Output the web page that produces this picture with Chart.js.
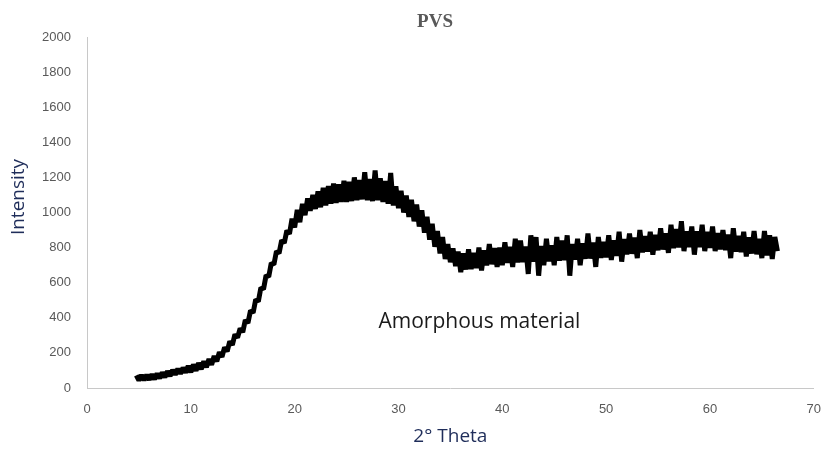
<!DOCTYPE html>
<html>
<head>
<meta charset="utf-8">
<script src="https://cdn.jsdelivr.net/npm/chart.js@4"></script>
<style>
  html, body { margin: 0; padding: 0; background: #fff; }
  #wrap { width: 835px; height: 453px; }
</style>
</head>
<body>
<div id="wrap"><canvas id="xrdChart"></canvas></div>
<script>
// sampling grid of the scan (degrees 2 theta)
const thetaStart = 4.75;
const thetaStep = 0.25;

// intensity, 0.25 deg apart
const intensity = [
    72, 44, 73, 45, 75, 47, 78, 50, 82, 55, 88, 61, 95, 69, 103, 76, 109, 82, 115, 88,
    126, 90, 134, 98, 142, 107, 152, 118, 165, 133, 182, 152, 204, 177, 232, 208, 266, 245, 305, 287,
    340, 318, 387, 370, 442, 428, 504, 493, 572, 563, 642, 633, 712, 703, 780, 768, 842, 826, 897, 878,
    965, 915, 1015, 945, 1050, 985, 1080, 1010, 1100, 1020, 1120, 1030, 1140, 1040, 1150, 1050, 1165, 1055, 1160, 1060,
    1180, 1060, 1175, 1065, 1200, 1070, 1185, 1075, 1230, 1070, 1190, 1065, 1240, 1070, 1195, 1060, 1180, 1050, 1225, 1040,
    1150, 1025, 1123, 1000, 1097, 975, 1073, 950, 1045, 920, 1013, 885, 975, 845, 935, 805, 895, 767, 860, 735,
    820, 717, 795, 695, 777, 660, 767, 675, 790, 677, 770, 683, 800, 670, 785, 699, 820, 705, 797, 690,
    800, 700, 830, 713, 804, 690, 850, 716, 840, 717, 807, 650, 870, 719, 860, 640, 810, 700, 850, 722,
    813, 700, 860, 726, 840, 728, 870, 640, 821, 732, 850, 700, 825, 736, 880, 738, 829, 690, 860, 742,
    833, 745, 870, 730, 841, 753, 890, 720, 849, 761, 880, 765, 857, 740, 900, 773, 865, 777, 890, 760,
    873, 785, 910, 789, 881, 770, 930, 797, 905, 801, 950, 780, 893, 803, 920, 760, 893, 803, 930, 780,
    890, 798, 920, 780, 882, 790, 900, 786, 874, 740, 910, 778, 866, 774, 890, 750, 858, 766, 895, 762,
    850, 740, 895, 755, 870, 735, 860, 780,
];

const theta = intensity.map((_, i) => thetaStart + i * thetaStep);

const xTicks = [0, 10, 20, 30, 40, 50, 60, 70];
const yTicks = [0, 200, 400, 600, 800, 1000, 1200, 1400, 1600, 1800, 2000];

const chartTitle = "PVS";
const xTitle = "2° Theta";
const yTitle = "Intensity";
const noteText = "Amorphous material";
const notePos = { x: 37.8, y: 376 };

const textPlugin = {
    id: "textPlugin",
    afterDraw(chart) {
        const ctx = chart.ctx;
        const area = chart.chartArea;
        const xs = chart.scales.x;
        const ys = chart.scales.y;
        ctx.save();
        ctx.textAlign = "center";
        ctx.textBaseline = "middle";

        ctx.fillStyle = "#595959";
        ctx.font = "bold 19px 'Liberation Serif', serif";
        ctx.fillText(chartTitle, 435, 22);

        ctx.fillStyle = "#1f2d5a";
        ctx.font = "19px 'Open Sans', sans-serif";
        ctx.fillText(xTitle, (area.left + area.right) / 2, 437);

        ctx.save();
        ctx.translate(19, 197);
        ctx.rotate(-Math.PI / 2);
        ctx.fillText(yTitle, 0, 0);
        ctx.restore();

        ctx.fillStyle = "#1a1a1a";
        ctx.font = "21px 'Open Sans', sans-serif";
        ctx.fillText(noteText, xs.getPixelForValue(notePos.x), ys.getPixelForValue(notePos.y));
        ctx.restore();
    },
};

document.addEventListener("DOMContentLoaded", () => {
    const ctx = document.getElementById("xrdChart").getContext("2d");

    new Chart(ctx, {
        type: "line",
        data: {
            datasets: [
                {
                    data: theta.map((t, i) => ({ x: t, y: intensity[i] })),
                    borderColor: "#000000",
                    borderWidth: 5,
                    borderJoinStyle: "bevel",
                    borderCapStyle: "butt",
                    pointRadius: 0,
                    tension: 0,
                    fill: false,
                },
            ],
        },
        options: {
            responsive: true,
            maintainAspectRatio: false,
            animation: false,
            layout: {
                padding: { left: 0, right: 20, top: 37, bottom: 0 },
            },
            plugins: {
                legend: { display: false },
                title: { display: false },
                tooltip: { enabled: false },
            },
            scales: {
                x: {
                    type: "linear",
                    min: 0,
                    max: 70,
                    afterBuildTicks: (s) => {
                        s.ticks = xTicks.map((v) => ({ value: v }));
                    },
                    afterFit: (s) => {
                        s.height = 65;
                    },
                    grid: { display: false, drawTicks: false },
                    border: { display: true, color: "#c8c8c8", width: 1 },
                    ticks: {
                        padding: 14,
                        color: "#595959",
                        font: { family: "'Liberation Sans', sans-serif", size: 13 },
                        maxRotation: 0,
                        callback: (v) => String(v),
                    },
                },
                y: {
                    min: 0,
                    max: 2000,
                    afterBuildTicks: (s) => {
                        s.ticks = yTicks.map((v) => ({ value: v }));
                    },
                    afterFit: (s) => {
                        s.width = 87;
                    },
                    grid: { display: false, drawTicks: false },
                    border: { display: true, color: "#c8c8c8", width: 1 },
                    ticks: {
                        padding: 16,
                        color: "#595959",
                        font: { family: "'Liberation Sans', sans-serif", size: 13 },
                        callback: (v) => String(v),
                    },
                },
            },
        },
        plugins: [textPlugin],
    });
});
</script>
</body>
</html>
